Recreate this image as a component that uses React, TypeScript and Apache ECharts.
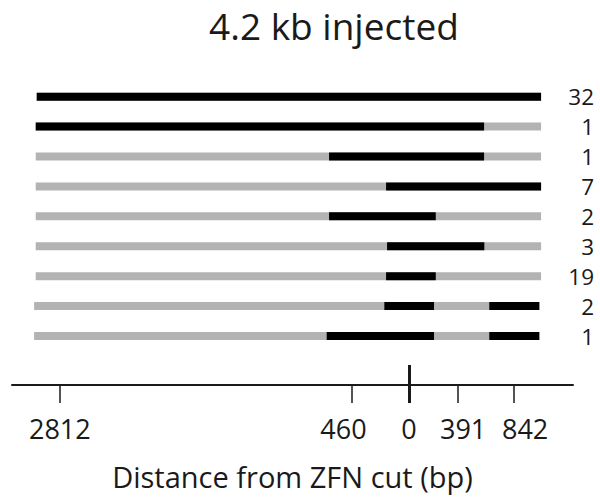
import React, { useEffect, useRef } from "react";
import * as echarts from "echarts";

// Rows from top to bottom
const rowCounts = [32, 1, 1, 7, 2, 3, 19, 2, 1];
const rowStart = [-2998, -3006, -3006, -3006, -3006, -3006, -3006, -3019, -3019];
const rowEnd = [1063, 1063, 1063, 1063, 1063, 1063, 1063, 1049, 1049];
// black segments: [row, start, end] in bp
const blackSegments: number[][] = [
  [0, -2998, 1063],
  [1, -3006, 604],
  [2, -644, 604],
  [3, -185, 1063],
  [4, -644, 215],
  [5, -177, 606],
  [6, -185, 215],
  [7, -199, 201],
  [7, 646, 1049],
  [8, -663, 201],
  [8, 646, 1049],
];
const tickValues = [-2812, -460, 391, 842];
const labelValues = [-2812, -460, 0, 391, 842];
const titleText = "4.2 kb injected";
const axisTitle = "Distance from ZFN cut (bp)";

const FONT = "Open Sans";
const TEXT = "#1a1a1a";

export default function App() {
  const ref = useRef<HTMLDivElement>(null);
  useEffect(() => {
    if (!ref.current) return;
    const chart = echarts.init(ref.current, undefined, { renderer: "svg" });
    const rows = rowCounts.map((_, i) => "r" + i);
    const grayData = rowCounts.map((_, i) => [rowStart[i], rowEnd[i], i]);
    const blackData = blackSegments.map((s) => [s[1], s[2], s[0]]);
    const renderItem = (params: any, api: any) => {
      const p0 = api.coord([api.value(0), api.value(2)]);
      const p1 = api.coord([api.value(1), api.value(2)]);
      const h = 8;
      return {
        type: "rect",
        shape: { x: p0[0], y: p0[1] - h / 2, width: p1[0] - p0[0], height: h },
        style: { fill: api.visual("color") },
      };
    };
    const axisBase = {
      type: "value",
      min: -3197,
      max: 1320,
      position: "bottom",
      offset: 34,
      splitLine: { show: false },
    };
    const shift: Record<string, string> = {
      "-2812": "{a|2812}",
      "-460": "{l|460}",
      "0": "{a|0}",
      "391": "{r1|391}",
      "842": "{r2|842}",
    };
    const richBase = { fontSize: 27, fontFamily: FONT, color: TEXT };
    chart.setOption({
      animation: false,
      title: {
        text: titleText,
        left: 209,
        top: 7,
        padding: 0,
        textStyle: { fontSize: 37, fontFamily: FONT, fontWeight: "normal", color: TEXT },
      },
      grid: { left: 12, right: 27, top: 81.7, bottom: 151 },
      xAxis: [
        {
          ...axisBase,
          axisLine: { show: true, lineStyle: { color: TEXT, width: 2 } },
          axisTick: {
            show: true,
            customValues: tickValues,
            length: 18,
            lineStyle: { color: TEXT, width: 1.5 },
          },
          axisLabel: {
            show: true,
            customValues: labelValues,
            margin: 30,
            formatter: (v: number) => shift[String(v)] ?? String(Math.abs(v)),
            rich: {
              a: { ...richBase },
              l: { ...richBase, padding: [0, 17, 0, 0] },
              r1: { ...richBase, padding: [0, 0, 0, 11] },
              r2: { ...richBase, padding: [0, 0, 0, 23] },
            },
          },
          name: axisTitle,
          nameLocation: "middle",
          nameGap: 77,
          nameTextStyle: { fontSize: 29, fontFamily: FONT, color: TEXT },
        },
        {
          ...axisBase,
          axisLine: { show: false },
          axisTick: {
            show: true,
            customValues: [0],
            inside: true,
            length: 20,
            lineStyle: { color: TEXT, width: 3 },
          },
          axisLabel: { show: false },
        },
        {
          ...axisBase,
          axisLine: { show: false },
          axisTick: {
            show: true,
            customValues: [0],
            length: 18,
            lineStyle: { color: TEXT, width: 3 },
          },
          axisLabel: { show: false },
        },
      ],
      yAxis: {
        type: "category",
        data: rows,
        inverse: true,
        position: "right",
        axisLine: { show: false },
        axisTick: { show: false },
        splitLine: { show: false },
        axisLabel: {
          align: "right",
          margin: 21,
          fontSize: 22.5,
          fontFamily: FONT,
          color: TEXT,
          padding: [6, 0, 0, 0],
          formatter: (_v: string, i: number) => String(rowCounts[i]),
        },
      },
      series: [
        {
          type: "custom",
          name: "gray",
          color: "#b3b3b3",
          xAxisIndex: 0,
          renderItem,
          encode: { x: [0, 1], y: 2 },
          data: grayData,
        },
        {
          type: "custom",
          name: "black",
          color: "#000000",
          xAxisIndex: 0,
          renderItem,
          encode: { x: [0, 1], y: 2 },
          data: blackData,
        },
      ],
    });
    return () => chart.dispose();
  }, []);
  return (
    <div
      ref={ref}
      style={{ position: "absolute", left: 0, top: 0, width: 600, height: 502, background: "#fff" }}
    />
  );
}
